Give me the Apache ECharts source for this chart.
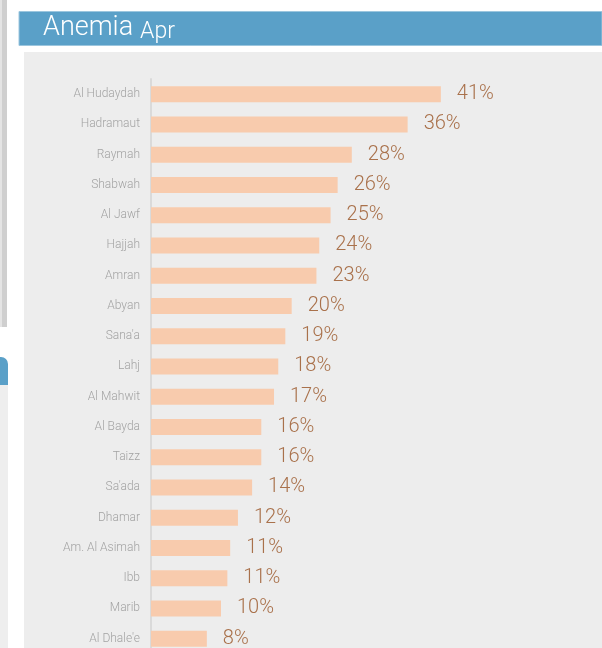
<!DOCTYPE html>
<html>
<head>
<meta charset="utf-8">
<script src="https://cdn.jsdelivr.net/npm/echarts@6/dist/echarts.min.js"></script>
<style>
html,body{margin:0;padding:0;background:#fff;}
#chart{width:602px;height:648px;}
</style>
</head>
<body>
<div id="chart"></div>
<script>
var titleMain = 'Anemia';
var titleSub = 'Apr';
var categories = ['Al Hudaydah','Hadramaut','Raymah','Shabwah','Al Jawf','Hajjah','Amran','Abyan',"Sana'a",'Lahj','Al Mahwit','Al Bayda','Taizz',"Sa'ada",'Dhamar','Am. Al Asimah','Ibb','Marib',"Al Dhale'e"];
var values = [41.0,36.3,28.4,26.4,25.4,23.8,23.4,19.9,19.0,18.0,17.4,15.6,15.6,14.3,12.3,11.2,10.8,9.9,7.9];

var chart = echarts.init(document.getElementById('chart'));
chart.setOption({
  animation: false,
  backgroundColor: '#ffffff',
  graphic: [
    {type:'rect', z:-5, shape:{x:0,y:0,width:2,height:327}, style:{fill:'#E4E4E4'}},
    {type:'rect', z:-5, shape:{x:2,y:0,width:5,height:327}, style:{fill:'#CFCFCF'}},
    {type:'rect', z:-5, shape:{x:0,y:357,width:8,height:28,r:[0,7,0,0]}, style:{fill:'#5AA0C8'}},
    {type:'rect', z:-5, shape:{x:0,y:385,width:8,height:263}, style:{fill:'#EEEEEE'}},
    {type:'rect', z:-5, shape:{x:19,y:11.5,width:583,height:34}, style:{fill:'#5AA0C8', stroke:'#9CC6DE', lineWidth:1}},
    {type:'rect', z:-5, shape:{x:24,y:52,width:578,height:596}, style:{fill:'#EDEDED'}},
    {type:'text', z:5, left:43, top:15, style:{text:titleMain, fill:'#ffffff', font:'300 27px Roboto, sans-serif'}},
    {type:'text', z:5, left:140, top:21, style:{text:titleSub, fill:'#ffffff', font:'300 23px Roboto, sans-serif'}}
  ],
  grid: {left:151, top:79, width:353.5, height:574.75, containLabel:false, outerBoundsMode:'none'},
  xAxis: {
    type:'value', min:0, max:50, show:false
  },
  yAxis: {
    type:'category', data:categories, inverse:true,
    axisLine:{show:true, lineStyle:{color:'#DADADA', width:2}},
    axisTick:{show:false},
    axisLabel:{color:'#A3A3A3', fontSize:12, fontFamily:'Roboto, sans-serif', fontWeight:300, margin:11},
    splitLine:{show:false}
  },
  series: [{
    type:'bar', data:values, barWidth:16,
    itemStyle:{color:'#F8CBAD'},
    label:{show:true, position:'right', distance:16, color:'#A9714B', fontSize:20, fontFamily:'Roboto, sans-serif', fontWeight:300,
      formatter:function(p){return Math.round(p.value)+'%';}}
  }]
});
</script>
</body>
</html>
